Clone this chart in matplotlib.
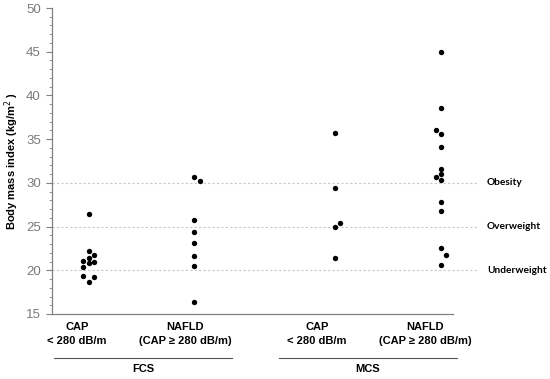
import matplotlib
matplotlib.use("Agg")
import matplotlib.pyplot as plt
from matplotlib.ticker import MultipleLocator

# ---- data ----
groups = ["FCS", "MCS"]
cat_top = ["CAP", "NAFLD", "CAP", "NAFLD"]
cat_bottom = ["< 280 dB/m", "(CAP \u2265 280 dB/m)", "< 280 dB/m", "(CAP \u2265 280 dB/m)"]

fcs_cap = [26.4, 22.2, 21.7, 21.4, 21.1, 20.95, 20.8, 20.4, 19.4, 19.2, 18.7]
fcs_nafld = [30.7, 30.25, 25.7, 24.35, 23.1, 21.6, 20.5, 16.4]
mcs_cap = [35.7, 29.45, 25.45, 25.0, 21.45]
mcs_nafld = [45.0, 38.6, 36.05, 35.55, 34.05, 31.6, 31.05, 30.7, 30.3,
             27.8, 26.8, 22.5, 21.75, 20.55]
series = [fcs_cap, fcs_nafld, mcs_cap, mcs_nafld]

# jitter side of each point (-1 left, 0 centre, 1 right)
fcs_cap_side = [0, 0, 1, 0, -1, 1, 0, -1, -1, 1, 0]
fcs_nafld_side = [0, 1, 0, 0, 0, 0, 0, 0]
mcs_cap_side = [0, 0, 1, 0, 0]
mcs_nafld_side = [0, 0, -1, 0, 0, 0, 0, -1, 0, 0, 0, 0, 1, 0]
sides = [fcs_cap_side, fcs_nafld_side, mcs_cap_side, mcs_nafld_side]

ref_values = [30, 25, 20]
ref_labels = ["Obesity", "Overweight", "Underweight"]

yticks = [15, 20, 25, 30, 35, 40, 45, 50]

# ---- layout ----
W, H = 550, 379
fig = plt.figure(figsize=(W / 100, H / 100), dpi=100)
left_px, right_px, top_px, bottom_px = 52, 477, 8, 314
ax = fig.add_axes([left_px / W, 1 - bottom_px / H,
                   (right_px - left_px) / W, (bottom_px - top_px) / H])

x_end = 10.0           # x-axis spine end
xmax = 10.6            # gridlines extend to here
dot_pos = [0.915, 3.55, 7.06, 9.70]
lab_pos = [0.62, 3.32, 6.61, 9.30]
jit = 0.13

for vals, sd, xp in zip(series, sides, dot_pos):
    xs = [xp + s * jit for s in sd]
    ax.scatter(xs, vals, s=15, color="black", zorder=3, linewidths=0)

for v, lab in zip(ref_values, ref_labels):
    ax.plot([0, xmax], [v, v], color="#c8c8c8", lw=0.8, ls=(0, (2, 2)), zorder=1)
    ax.text(xmax + 0.25, v, lab, fontsize=7.3, fontweight="bold", family="Lato",
            va="center", ha="left", clip_on=False)

ax.set_xlim(0, xmax)
ax.set_ylim(15, 50)
ax.set_yticks(yticks)
ax.yaxis.set_minor_locator(MultipleLocator(1))
ax.set_xticks([])
for s in ["top", "right"]:
    ax.spines[s].set_visible(False)
ax.spines["bottom"].set_bounds(0, x_end)
for s in ["left", "bottom"]:
    ax.spines[s].set_color("#808080")
    ax.spines[s].set_linewidth(0.9)
ax.tick_params(axis="y", which="major", length=4, color="#808080",
               labelsize=9.5, labelcolor="#7a7a7a", pad=4)
ax.tick_params(axis="y", which="minor", length=2.5, color="#808080")
for t in ax.get_yticklabels():
    t.set_family("Liberation Sans")

ax.set_ylabel("Body mass index (kg/m$^2$ )", fontsize=8, fontweight="bold",
              family="Liberation Sans")
ax.yaxis.set_label_coords(-0.072, 0.5)

# category labels
trans = ax.get_xaxis_transform()
def ypix(p):
    return 1 - (p - top_px) / (bottom_px - top_px)

for xp, t1, t2 in zip(lab_pos, cat_top, cat_bottom):
    ax.text(xp, ypix(327), t1, transform=trans, ha="center", va="center",
            fontsize=8, fontweight="bold", family="Liberation Sans", clip_on=False)
    ax.text(xp, ypix(341), t2, transform=trans, ha="center", va="center",
            fontsize=8, fontweight="bold", family="Liberation Sans", clip_on=False)

# group brackets
grp_spans = [(0.05, 4.5), (5.66, 10.1)]
for (a, b), g in zip(grp_spans, groups):
    ax.plot([a, b], [ypix(358)] * 2, transform=trans, color="#555555",
            lw=0.8, clip_on=False)
    ax.text((a + b) / 2, ypix(369.5), g, transform=trans, ha="center",
            va="center", fontsize=8, fontweight="bold",
            family="Liberation Sans", clip_on=False)

fig.savefig("out.png", dpi=100)
